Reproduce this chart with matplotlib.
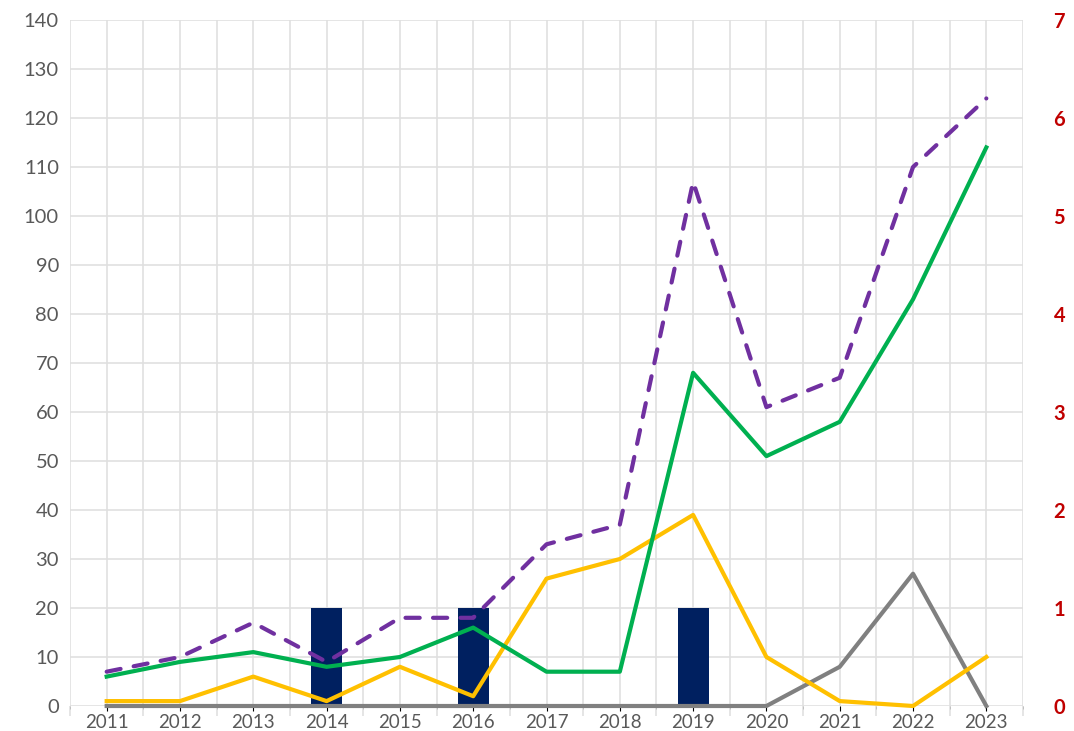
import matplotlib.pyplot as plt
from matplotlib.ticker import MultipleLocator, FixedLocator

plt.rcParams['font.family'] = ['Lato', 'DejaVu Sans']

years = ['2011', '2012', '2013', '2014', '2015', '2016', '2017',
         '2018', '2019', '2020', '2021', '2022', '2023']
total = [7, 10, 17, 9, 18, 18, 33, 37, 107, 61, 67, 110, 124]
green = [6, 9, 11, 8, 10, 16, 7, 7, 68, 51, 58, 83, 114]
yellow = [1, 1, 6, 1, 8, 2, 26, 30, 39, 10, 1, 0, 10]
gray = [0, 0, 0, 0, 0, 0, 0, 0, 0, 0, 8, 27, 0]
bars = [0, 0, 0, 1, 0, 1, 0, 0, 1, 0, 0, 0, 0]

x = list(range(len(years)))

fig = plt.figure(figsize=(10.74, 7.31), dpi=100)
ax = fig.add_axes([0.0652, 0.0342, 0.8873, 0.9384])
ax2 = ax.twinx()
ax.set_zorder(ax2.get_zorder() + 1)
ax.patch.set_visible(False)

# bars on the right axis, grid drawn underneath everything
ax2.bar(x, bars, width=0.42, color='#002060', zorder=2)
ax2.set_ylim(0, 7)
ax2.yaxis.set_major_locator(MultipleLocator(1))
ax2.yaxis.set_minor_locator(MultipleLocator(0.5))
ax2.xaxis.set_visible(True)
ax2.grid(True, which='both', color='#E0E0E0', linewidth=1.2, zorder=0)
ax2.set_axisbelow(True)
ax2.tick_params(axis='y', which='both', length=0, pad=22,
                labelsize=14.5, labelcolor='#C00000')
for lab in ax2.get_yticklabels():
    lab.set_fontweight('bold')
ax2.tick_params(axis='x', labelbottom=False)

lw = 3
ax.plot(x, gray, color='#808080', lw=lw, clip_on=False, solid_joinstyle='round')
ax.plot(x, yellow, color='#FFC000', lw=lw, clip_on=False, solid_joinstyle='round')
ax.plot(x, green, color='#00B050', lw=lw, clip_on=False, solid_joinstyle='round')
ax.plot(x, total, color='#7030A0', lw=lw, clip_on=False, dashes=(3.4, 3.2),
        dash_capstyle='round')

ax.set_xlim(-0.5, len(years) - 0.5)
ax.set_ylim(0, 140)
ax.yaxis.set_major_locator(MultipleLocator(10))
ax.set_xticks(x)
ax.set_xticklabels(years)
ax.xaxis.set_minor_locator(FixedLocator([i - 0.5 for i in range(len(years) + 1)]))
ax.tick_params(axis='y', length=0, pad=8, labelsize=14.5, labelcolor='#595959')
ax.tick_params(axis='x', which='major', length=0, pad=6, labelsize=13.5,
               labelcolor='#595959')
ax.tick_params(axis='x', which='minor', length=7, width=1.2, color='#E0E0E0')

for a in (ax, ax2):
    for s in a.spines.values():
        s.set_visible(False)

fig.savefig('out.png', dpi=100)
